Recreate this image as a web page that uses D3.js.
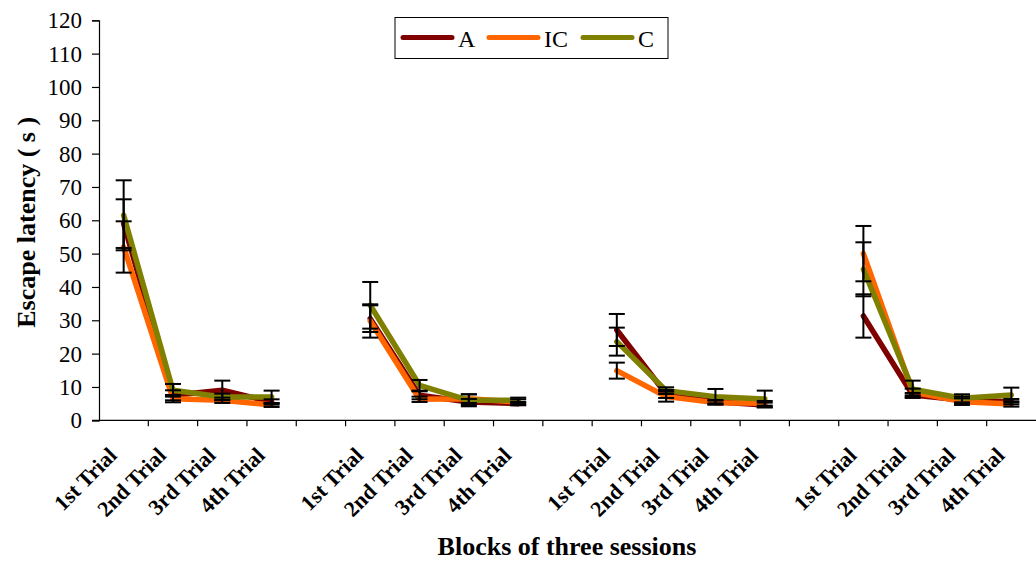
<!DOCTYPE html>
<html><head><meta charset="utf-8">
<script src="https://cdn.jsdelivr.net/npm/d3@7"></script>
<style>
html,body{margin:0;padding:0;background:#fff;}
svg{display:block;}
svg text{font-family:"Liberation Serif","Times New Roman",serif;fill:#000;}
</style></head>
<body><svg id="c" width="1036" height="561"></svg>
<script>
// ---- data ----
const trials = ["1st Trial","2nd Trial","3rd Trial","4th Trial"];
const yTicks = [0,10,20,30,40,50,60,70,80,90,100,110,120];
const seriesNames = ["A","IC","C"];
const seriesColors = ["#800000","#FF6600","#808000"];
// 19 category slots: 4 trials per block, an empty slot between blocks (null)
const A_vals  = [59, 7.5, 9, 5.5, null, 30.5, 7.5, 5.5, 5, null, 27.1, 7.9, 5.6, 4.6, null, 31.3, 7.6, 6.1, 5.6];
const A_err   = [7.3, 1.5, 2.9, 0.8, null, 4, 1.2, 0.9, 0.5, null, 4.8, 1.2, 0.5, 0.7, null, 6.5, 0.6, 1, 0.8];
const IC_vals = [52, 6.5, 6, 4.6, null, 29.8, 6.3, 6.5, 5.5, null, 14.9, 7.1, 5.3, 5.1, null, 50, 8.5, 5.6, 4.9];
const IC_err  = [7.7, 1.1, 0.8, 0.6, null, 5, 0.8, 1.3, 0.8, null, 2.4, 1.5, 0.6, 0.7, null, 8.3, 1, 1, 0.8];
const C_vals  = [61.5, 9, 7, 7, null, 34.5, 10.5, 6, 6, null, 23.6, 8.9, 7.1, 6.4, null, 45.3, 9.3, 6.6, 7.6];
const C_err   = [10.5, 1.9, 1, 1.9, null, 7, 1.6, 1.8, 0.8, null, 4.2, 1, 2.3, 2.5, null, 8.1, 2.6, 1.2, 2.2];

const allVals = [A_vals, IC_vals, C_vals];
const allErr = [A_err, IC_err, C_err];
const slots = d3.range(A_vals.length);
const slotLabel = i => (i % 5 === 4) ? "" : trials[i % 5];
const FONT = "'Liberation Serif','Times New Roman',serif";

const svg = d3.select("#c");
const x0 = 99, x1 = 1036, yTop = 20.3, yBot = 420.3;
const x = d3.scaleBand().domain(slots).range([x0, x1]).padding(0);
const y = d3.scaleLinear().domain([0,120]).range([yBot, yTop]);

// y axis
const yAxis = d3.axisLeft(y).tickValues(yTicks).tickSize(7).tickPadding(10);
const gy = svg.append("g").attr("transform",`translate(${x0},0)`).call(yAxis)
  .attr("font-family", FONT).attr("font-size", 23);
gy.select(".domain").attr("stroke","#000").attr("stroke-width",1.2);
gy.selectAll(".tick line").attr("stroke","#000").attr("stroke-width",1.2);
gy.selectAll(".tick text").attr("font-size",23).attr("fill","#000").attr("font-family",FONT);

// x axis line
svg.append("line").attr("x1",x0-7).attr("x2",x1).attr("y1",yBot).attr("y2",yBot)
  .attr("stroke","#000").attr("stroke-width",1.2);
// boundary ticks
const bounds = slots.map(i => x(i)).concat([x1]);
svg.append("g").selectAll("line").data(bounds.slice(1,-1)).join("line")
  .attr("x1",d=>d).attr("x2",d=>d).attr("y1",yBot).attr("y2",yBot+6)
  .attr("stroke","#000").attr("stroke-width",1.2);
// x labels
svg.append("g").selectAll("text").data(slots.filter(i=>slotLabel(i)!=="")).join("text")
  .attr("transform", i => `translate(${x(i)+x.bandwidth()/2-11},${yBot+31}) rotate(-45)`)
  .attr("text-anchor","end").attr("font-weight","bold").attr("font-size",22)
  .attr("font-family",FONT).attr("dy","0.35em")
  .text(i => slotLabel(i));

// lines
const line = d3.line().defined(d => d.v !== null)
  .x(d => x(d.i) + x.bandwidth()/2).y(d => y(d.v));
allVals.forEach((vals, k) => {
  svg.append("path")
    .datum(vals.map((v,i)=>({i, v})))
    .attr("fill","none").attr("stroke",seriesColors[k]).attr("stroke-width",5.5)
    .attr("stroke-linejoin","round").attr("stroke-linecap","round")
    .attr("d", line);
});

// error bars
allVals.forEach((vals, k) => {
  const errs = allErr[k];
  const data = vals.map((v,i)=>({i, v, e: errs[i]})).filter(d => d.v !== null);
  const g = svg.append("g").attr("stroke","#000").attr("stroke-width",2);
  const cx = d => x(d.i) + x.bandwidth()/2;
  g.selectAll(".v").data(data).join("line")
    .attr("x1",cx).attr("x2",cx).attr("y1",d=>y(d.v-d.e)).attr("y2",d=>y(d.v+d.e));
  g.selectAll(".t").data(data).join("line")
    .attr("x1",d=>cx(d)-8).attr("x2",d=>cx(d)+8).attr("y1",d=>y(d.v+d.e)).attr("y2",d=>y(d.v+d.e));
  g.selectAll(".b").data(data).join("line")
    .attr("x1",d=>cx(d)-8).attr("x2",d=>cx(d)+8).attr("y1",d=>y(d.v-d.e)).attr("y2",d=>y(d.v-d.e));
});

// legend
const lg = svg.append("g");
lg.append("rect").attr("x",395).attr("y",17.5).attr("width",273).attr("height",41)
  .attr("fill","#fff").attr("stroke","#000").attr("stroke-width",1);
const legX = [403, 489, 583];
seriesNames.forEach((n,k) => {
  lg.append("line").attr("x1",legX[k]).attr("x2",legX[k]+49).attr("y1",37.5).attr("y2",37.5)
    .attr("stroke",seriesColors[k]).attr("stroke-width",5).attr("stroke-linecap","round");
  lg.append("text").attr("x",legX[k]+55).attr("y",46.5)
    .attr("font-size",24).attr("font-family",FONT).text(n);
});

// titles
svg.append("text").attr("transform",`translate(35,${(yTop+yBot)/2+2}) rotate(-90)`)
  .attr("text-anchor","middle").attr("font-weight","bold").attr("font-size",26)
  .attr("font-family",FONT).text("Escape latency ( s )");
svg.append("text").attr("x",567).attr("y",555).attr("text-anchor","middle")
  .attr("font-weight","bold").attr("font-size",26).attr("font-family",FONT)
  .text("Blocks of three sessions");
</script></body></html>
